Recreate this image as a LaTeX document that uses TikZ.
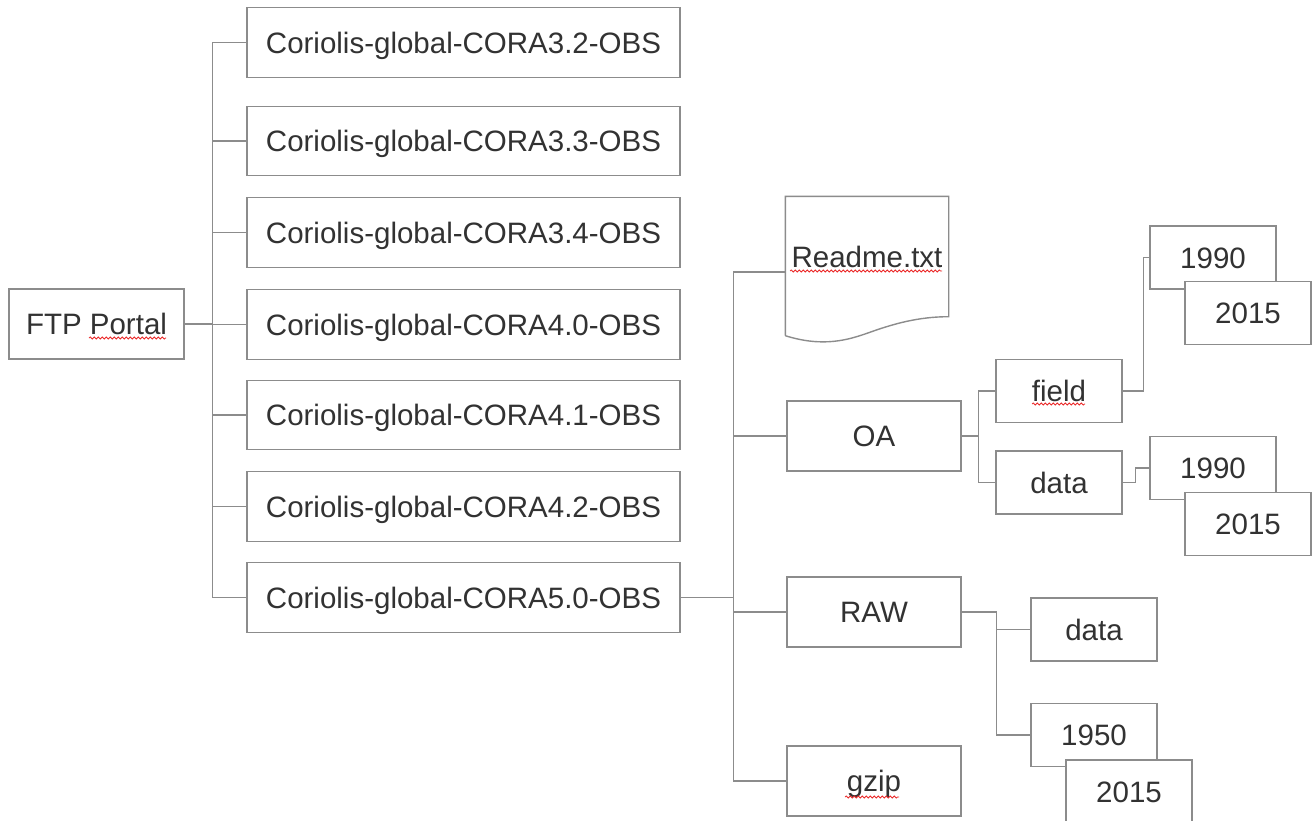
\documentclass[tikz,border=0pt]{standalone}
\usepackage{fontspec}
\setmainfont{Liberation Sans}
\usetikzlibrary{decorations.pathmorphing}
\definecolor{linegray}{RGB}{140,140,140}
\definecolor{txtgray}{RGB}{50,50,50}
\definecolor{spellred}{RGB}{235,40,40}
\begin{document}
\begin{tikzpicture}[x=1pt,y=-1pt,
  line/.style={draw=linegray,line width=1.4pt},
  box/.style={line,fill=white,rectangle,inner sep=0pt,text=txtgray,
    font=\fontsize{29.5}{34}\selectfont,text height=21pt,text depth=0pt,align=center},
  bigbox/.style={box,minimum width=433pt,minimum height=69.5pt},
  midbox/.style={box,minimum width=174pt,minimum height=70pt},
  smallbox/.style={box,minimum width=126pt,minimum height=63pt},
  squiggle/.style={draw=spellred,line width=0.8pt,decorate,
    decoration={snake,segment length=4pt,amplitude=1pt}}]
\useasboundingbox[fill=white] (0,0) rectangle (1315,820);

% root
\node[box,minimum width=175pt,minimum height=70pt] (ftp) at (96.5,324) {FTP Portal};

% versions
\node[bigbox] (c1) at (463.5,42.5) {Coriolis-global-CORA3.2-OBS};
\node[bigbox] (c2) at (463.5,141) {Coriolis-global-CORA3.3-OBS};
\node[bigbox] (c3) at (463.5,232.5) {Coriolis-global-CORA3.4-OBS};
\node[bigbox] (c4) at (463.5,324.5) {Coriolis-global-CORA4.0-OBS};
\node[bigbox] (c5) at (463.5,415) {Coriolis-global-CORA4.1-OBS};
\node[bigbox] (c6) at (463.5,506.5) {Coriolis-global-CORA4.2-OBS};
\node[bigbox] (c7) at (463.5,597.5) {Coriolis-global-CORA5.0-OBS};

\foreach \i in {1,...,7}
  \draw[line] (ftp.east) -- ++(28,0) |- (c\i.west);

% CORA5.0 children
\node[box,draw=none,fill=none,minimum width=162pt,minimum height=138pt,
  text height=21pt,text depth=19pt] (readme) at (867,266) {Readme.txt};
\draw[line] (readme.south west) -- (readme.north west) -- (readme.north east)
  -- ([yshift=19pt]readme.south east)
  .. controls ([xshift=-30pt,yshift=19pt]readme.south east) and ([xshift=-55pt,yshift=12pt]readme.south east)
  .. ([xshift=-80pt,yshift=3pt]readme.south east)
  .. controls ([xshift=-100pt,yshift=-4pt]readme.south east) and ([xshift=-125pt,yshift=-12pt]readme.south east)
  .. (readme.south west);
\node[midbox] (oa) at (874,436) {OA};
\node[midbox] (raw) at (874,612) {RAW};
\node[midbox] (gzip) at (874,781) {gzip};

\draw[line] (c7.east) -- ++(53,0) |- ([yshift=-6pt]readme.west);
\draw[line] (c7.east) -- ++(53,0) |- (oa.west);
\draw[line] (c7.east) -- ++(53,0) |- (raw.west);
\draw[line] (c7.east) -- ++(53,0) |- (gzip.west);

% OA children
\node[smallbox] (field) at (1059,391) {field};
\node[smallbox] (data) at (1059,482.5) {data};
\draw[line] (oa.east) -- ++(17,0) |- (field.west);
\draw[line] (oa.east) -- ++(17,0) |- (data.west);

\node[smallbox] (fa) at (1213,257.5) {1990};
\node[smallbox] (fb) at (1248,313) {2015};
\draw[line] (field.east) -- ++(21,0) |- (fa.west);

\node[smallbox] (da) at (1213,468) {1990};
\node[smallbox] (db) at (1248,524) {2015};
\draw[line] (data.east) -- ++(13,0) |- (da.west);

% RAW children
\node[smallbox] (rdata) at (1094,629.5) {data};
\node[smallbox] (ra) at (1094,735) {1950};
\node[smallbox] (rb) at (1129,791.5) {2015};
\draw[line] (raw.east) -- ++(35,0) |- (rdata.west);
\draw[line] (raw.east) -- ++(35,0) |- (ra.west);

% spell-check underlines
\draw[squiggle] (89,338) -- (166,338);
\draw[squiggle] (790,271) -- (942,271);
\draw[squiggle] (1032,404) -- (1085,404);
\draw[squiggle] (845,797) -- (899,797);
\end{tikzpicture}
\end{document}
